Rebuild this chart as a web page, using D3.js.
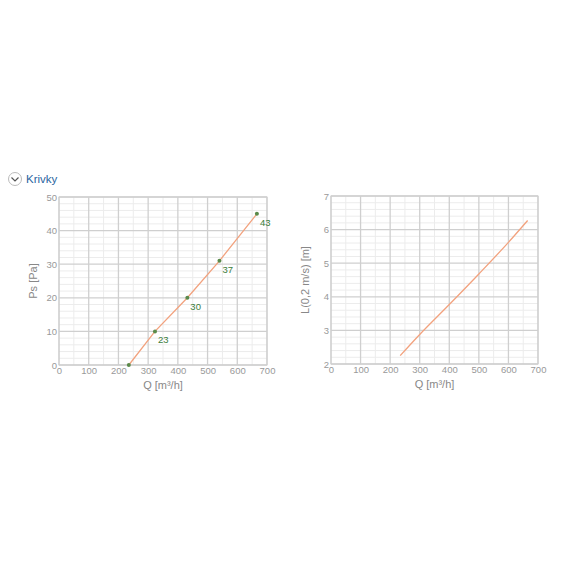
<!DOCTYPE html>
<html><head><meta charset="utf-8">
<script src="https://cdn.jsdelivr.net/npm/d3@7"></script>
<style>
body{margin:0;background:#fff;font-family:"Liberation Sans",Arial,sans-serif;}
</style></head><body>
<svg id="c" width="576" height="576"></svg>
<script>
const psQ = [235, 323, 432, 540, 666];
const psVal = [0, 10, 20, 31, 45];
const psLabels = ["", "23", "30", "37", "43"];
const lQ = [234, 300, 400, 500, 600, 665];
const lVal = [2.25, 2.88, 3.77, 4.68, 5.62, 6.27];
const xTicks = [0,100,200,300,400,500,600,700];
const psTicks = [0,10,20,30,40,50];
const lTicks = [2,3,4,5,6,7];

const FONT = "Liberation Sans, Arial, sans-serif";
const svg = d3.select("#c");
// header
const hdr = svg.append("g");
hdr.append("circle").attr("cx",15).attr("cy",179).attr("r",6.5).attr("fill","#fff").attr("stroke","#bbb");
hdr.append("path").attr("d","M11.5,177.5 L15,181 L18.5,177.5").attr("fill","none").attr("stroke","#555").attr("stroke-width",1.2);
hdr.append("text").attr("x",26).attr("y",183).attr("font-size",11.5).attr("font-family",FONT).attr("fill","#2b65a0").text("Krivky");

function chart(x0,x1,y0,y1,yDom,yTicks,yMinorStep,yTitle,xs,ys,labels,showPts,curve){
  const x = d3.scaleLinear().domain([0,700]).range([x0,x1]);
  const y = d3.scaleLinear().domain(yDom).range([y1,y0]);
  const g = svg.append("g");
  const step = yTicks[1]-yTicks[0];
  g.selectAll(".mx").data(d3.range(50,700,50).filter(v=>v%100!==0)).join("line")
    .attr("x1",d=>x(d)).attr("x2",d=>x(d)).attr("y1",y0).attr("y2",y1).attr("stroke","#ececec");
  const ym = d3.range(yDom[0], yDom[1]+1e-9, yMinorStep).filter(v=>Math.abs(v/step-Math.round(v/step))>1e-6);
  g.selectAll(".my").data(ym).join("line")
    .attr("x1",x0).attr("x2",x1).attr("y1",d=>y(d)).attr("y2",d=>y(d)).attr("stroke","#ececec");
  g.selectAll(".Mx").data(xTicks).join("line")
    .attr("x1",d=>x(d)).attr("x2",d=>x(d)).attr("y1",y0).attr("y2",y1).attr("stroke","#cfcfcf").attr("stroke-width",1.3);
  g.selectAll(".My").data(yTicks).join("line")
    .attr("x1",x0).attr("x2",x1).attr("y1",d=>y(d)).attr("y2",d=>y(d)).attr("stroke","#cfcfcf").attr("stroke-width",1.3);
  g.append("rect").attr("x",x0).attr("y",y0).attr("width",x1-x0).attr("height",y1-y0).attr("fill","none").attr("stroke","#cfcfcf");
  const ax = g.append("g").attr("transform",`translate(0,${y1})`).call(d3.axisBottom(x).tickValues(xTicks).tickFormat(d3.format("d")).tickSize(0).tickPadding(2));
  ax.select(".domain").remove();
  ax.selectAll("text").attr("fill","#999").attr("font-size",9.5).attr("font-family",FONT);
  const ay = g.append("g").attr("transform",`translate(${x0},0)`).call(d3.axisLeft(y).tickValues(yTicks).tickFormat(d3.format("d")).tickSize(0).tickPadding(2));
  ay.select(".domain").remove();
  ay.selectAll("text").attr("fill","#999").attr("font-size",9.5).attr("font-family",FONT);
  g.append("text").attr("x",(x0+x1)/2).attr("y",y1+24).attr("text-anchor","middle").attr("font-size",11).attr("font-family",FONT).attr("fill","#888").text("Q [m³/h]");
  g.append("text").attr("transform",`translate(${x0-22},${(y0+y1)/2}) rotate(-90)`).attr("text-anchor","middle").attr("font-size",11).attr("font-family",FONT).attr("fill","#888").text(yTitle);
  const line = d3.line().x((d,i)=>x(xs[i])).y((d,i)=>y(ys[i])).curve(curve);
  g.append("path").datum(xs).attr("d",line).attr("fill","none").attr("stroke","#f2a27e").attr("stroke-width",1.3);
  if(showPts){
    g.selectAll(".pt").data(xs).join("circle").attr("cx",d=>x(d)).attr("cy",(d,i)=>y(ys[i])).attr("r",2).attr("fill","#5a8a4a");
    g.selectAll(".lb").data(labels).join("text").attr("x",(d,i)=>x(xs[i])+3).attr("y",(d,i)=>y(ys[i])+12)
      .attr("font-size",9.5).attr("font-family",FONT).attr("fill","#3a7d3a").text(d=>d);
  }
}
chart(59,267,197,365,[0,50],psTicks,2,"Ps [Pa]",psQ,psVal,psLabels,true,d3.curveLinear);
chart(331,538,196,364,[2,7],lTicks,0.2,"L(0,2 m/s) [m]",lQ,lVal,[],false,d3.curveMonotoneX);
</script>
</body></html>
